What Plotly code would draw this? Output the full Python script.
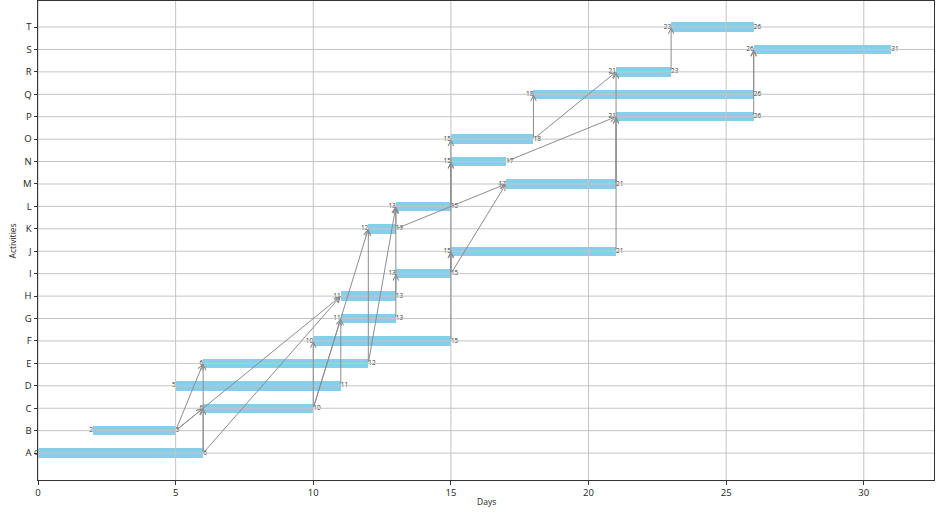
import plotly.graph_objects as go

activities = list("ABCDEFGHIJKLMNOPQRST")
starts = [0, 2, 6, 5, 6, 10, 11, 11, 13, 15, 12, 13, 17, 15, 15, 21, 18, 21, 26, 23]
ends   = [6, 5, 10, 11, 12, 15, 13, 13, 15, 21, 13, 15, 21, 17, 18, 26, 26, 23, 31, 26]
links = [("A", "C"), ("A", "E"), ("B", "E"), ("B", "C"), ("B", "H"), ("A", "H"),
         ("C", "F"), ("C", "G"), ("C", "K"), ("D", "G"), ("E", "K"), ("E", "L"),
         ("G", "I"), ("H", "L"), ("K", "L"), ("K", "M"), ("I", "M"), ("F", "J"),
         ("I", "J"), ("I", "N"), ("L", "N"), ("L", "O"), ("J", "P"), ("M", "P"),
         ("M", "R"), ("N", "P"), ("O", "Q"), ("O", "R"), ("P", "S"), ("Q", "S"),
         ("R", "T")]
x_ticks = [0, 5, 10, 15, 20, 25, 30]

idx = {a: i for i, a in enumerate(activities)}
ypos = list(range(len(activities)))
durations = [e - s for s, e in zip(starts, ends)]

fig = go.Figure()
fig.add_trace(go.Bar(orientation="h", y=ypos, x=durations, base=starts,
                     width=0.42, marker=dict(color="#87CEEB", line=dict(width=0)),
                     showlegend=False, hoverinfo="skip"))
fig.add_trace(go.Scatter(x=starts, y=ypos, mode="text", text=[str(s) for s in starts],
                         textposition="middle left", textfont=dict(size=6.5, color="#333"),
                         showlegend=False, hoverinfo="skip", cliponaxis=False))
fig.add_trace(go.Scatter(x=ends, y=ypos, mode="text", text=[str(e) for e in ends],
                         textposition="middle right", textfont=dict(size=6.5, color="#333"),
                         showlegend=False, hoverinfo="skip", cliponaxis=False))

xmax = max(ends) * 1.05
ymin, ymax = -1.2, len(activities) - 1 + 1.16

shapes = []
for i in ypos:
    shapes.append(dict(type="line", xref="paper", yref="y", x0=0, x1=1, y0=i, y1=i,
                       line=dict(color="#c4c4c4", width=1), layer="above"))
for t in x_ticks:
    shapes.append(dict(type="line", xref="x", yref="paper", x0=t, x1=t, y0=0, y1=1,
                       line=dict(color="#c4c4c4", width=1), layer="above"))

annotations = []
for p, s in links:
    annotations.append(dict(x=starts[idx[s]], y=idx[s], ax=ends[idx[p]], ay=idx[p],
                            xref="x", yref="y", axref="x", ayref="y", text="",
                            showarrow=True, arrowhead=5, arrowsize=1.1, arrowwidth=1,
                            arrowcolor="#8c8c8c", standoff=0, startstandoff=0))
annotations.append(dict(text="Days", x=0.5, y=-0.044, xref="paper", yref="paper",
                        yanchor="middle", showarrow=False, font=dict(size=8.5, color="#222")))
annotations.append(dict(text="Activities", x=-0.028, y=0.5, xref="paper", yref="paper",
                        textangle=-90, xanchor="center", yanchor="middle", showarrow=False,
                        font=dict(size=8.5, color="#222")))

fig.update_layout(
    width=936, height=517,
    margin=dict(l=38, r=2, t=1, b=37, autoexpand=False),
    plot_bgcolor="white", paper_bgcolor="white",
    font=dict(family="Open Sans, Noto Sans, sans-serif", size=9.5, color="#222"),
    shapes=shapes, annotations=annotations,
    xaxis=dict(range=[0, xmax], tickvals=x_ticks, showgrid=False, zeroline=False,
               showline=True, mirror=True, linecolor="#333", linewidth=1, automargin=False,
               ticks="outside", ticklen=3.5, tickcolor="#333"),
    yaxis=dict(range=[ymin, ymax], tickvals=ypos, ticktext=activities, showgrid=False,
               zeroline=False, showline=True, mirror=True, linecolor="#333", linewidth=1,
               automargin=False, ticks="outside", ticklen=3.5, tickcolor="#333"),
    bargap=0,
)
fig.write_html("out.html", config={"displayModeBar": False},
               post_script="document.body.style.margin='0';document.body.style.overflow='hidden';")
